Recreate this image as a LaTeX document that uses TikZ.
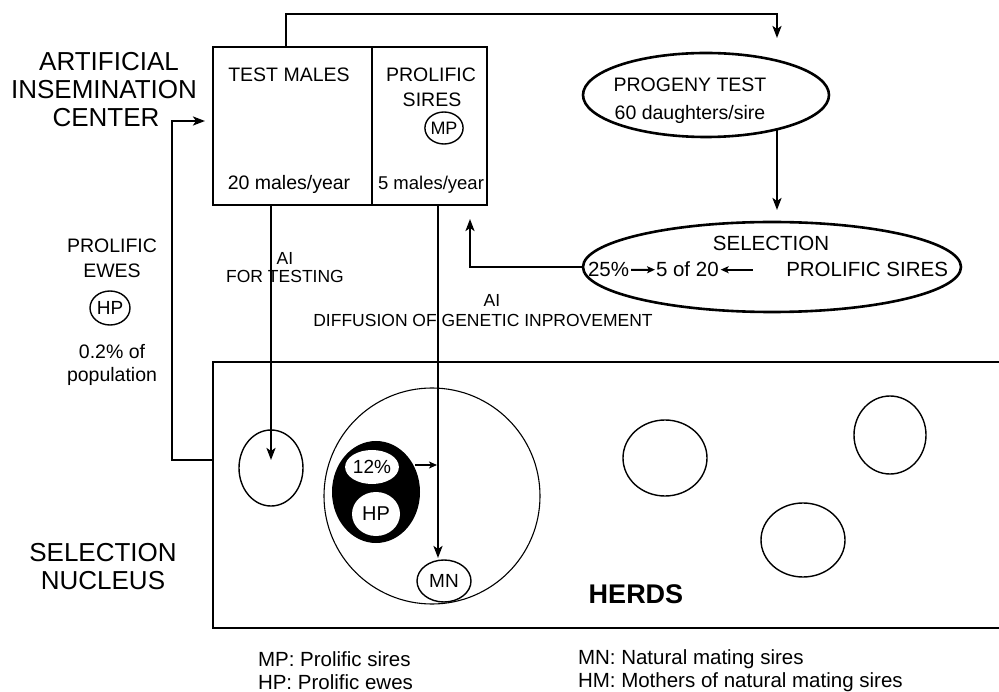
\documentclass[tikz,border=0pt]{standalone}
\usepackage{fontspec}
\setmainfont{Liberation Sans}
\usetikzlibrary{shapes.geometric,arrows.meta,calc}
\begin{document}
\begin{tikzpicture}[x=1pt,y=-1pt,
  every node/.style={inner sep=0pt, outer sep=0pt},
  big/.style={font=\fontsize{26}{28}\selectfont, align=center},
  med/.style={font=\fontsize{19.5}{25}\selectfont, align=center},
  sml/.style={font=\fontsize{17.5}{18}\selectfont, align=center},
  leg/.style={font=\fontsize{20.5}{24}\selectfont},
  heavy/.style={line width=2.6pt},
  conn/.style={line width=2.6pt, -{Stealth[length=12pt,width=9pt,inset=3pt]}},
  inl/.style={line width=2pt, -{Stealth[length=8pt,width=7pt,inset=2pt]}},
  thinc/.style={draw, ellipse, line width=1.4pt},
]
\useasboundingbox (0,0) rectangle (999,692);

% left labels
\node[big, anchor=base] (aic1) at (109,71) {ARTIFICIAL};
\node[big, anchor=base] (aic2) at (104,99) {INSEMINATION};
\node[big, anchor=base] (aic3) at (106,127) {CENTER};
\node[med, anchor=base] (pe1) at (112,253) {PROLIFIC};
\node[med, anchor=base] (pe2) at (112,278) {EWES};
\node[thinc, minimum width=40pt, minimum height=34pt, font=\fontsize{19}{20}\selectfont] (hp1) at (110,308) {HP};
\node[med, anchor=base] (pe3) at (112,359) {0.2\% of};
\node[med, anchor=base] (pe4) at (112,382) {population};
\node[big, anchor=base] (sn1) at (103,561) {SELECTION};
\node[big, anchor=base] (sn2) at (103,589) {NUCLEUS};

% top boxes
\node[draw, heavy, minimum width=159pt, minimum height=158pt, anchor=north west] (tm) at (213,47) {};
\node[draw, heavy, minimum width=115pt, minimum height=158pt, anchor=north west] (ps) at (372,47) {};
\node[med, anchor=base] (tmT) at (289,82) {TEST MALES};
\node[med, anchor=base] (tmB) at (289,190) {20 males/year};
\node[med, anchor=base] (psT) at (431,82) {PROLIFIC};
\node[med, anchor=base] (psT2) at (432,107) {SIRES};
\node[thinc, minimum width=36pt, minimum height=32pt, font=\fontsize{18}{20}\selectfont] (mp) at (444,128) {MP};
\node[font=\fontsize{18.5}{22}\selectfont, anchor=base] (psB) at (431,190) {5 males/year};

% progeny test
\node[draw, ellipse, heavy, minimum width=246pt, minimum height=84pt] (prog) at (706,95) {};
\node[med, anchor=base] (pgT) at (690,92) {PROGENY TEST};
\node[med, anchor=base] (pgB) at (690,120) {60 daughters/sire};

% selection
\node[draw, ellipse, heavy, minimum width=378pt, minimum height=90pt] (sel) at (772,267) {};
\node[font=\fontsize{20.5}{22}\selectfont, anchor=base] (slT) at (771,251) {SELECTION};
\node[font=\fontsize{20.5}{22}\selectfont, anchor=base west] (r1) at (588,277) {25\%};
\node[font=\fontsize{20.5}{22}\selectfont, anchor=base west] (r2) at (656,277) {5 of 20};
\node[font=\fontsize{20.5}{22}\selectfont, anchor=base east] (r3) at (948,277) {PROLIFIC SIRES};
\draw[inl] ([xshift=2pt]r1.east) -- ([xshift=-1pt]r2.west);
\draw[inl] ($(r2.east)+(34,0)$) -- ([xshift=2pt]r2.east);

% connectors top
\coordinate (c1) at (286,47);
\coordinate (c2) at (777,38);
\draw[conn] (c1) -- (286,14) -| (c2);
\coordinate (p1) at (777,129);
\coordinate (p2) at (777,210);
\draw[conn] (p1) -- (p2);
\coordinate (u1) at (470,219);
\draw[conn] (sel.west) -| (u1);

% nucleus
\draw[heavy] (999,362) -- (213,362) -- (213,628) -- (999,628);
\coordinate (nucL) at (213,460);
\coordinate (aicIn) at (205,121);
\draw[conn] (nucL) -- (172,460) |- (aicIn);

% AI lines
\node[sml] (ai1) at (285,258) {AI};
\node[sml] (ai1b) at (285,276) {FOR TESTING};
\node[sml] (ai2) at (492,300) {AI};
\node[sml] (ai2b) at (483,320) {DIFFUSION OF GENETIC INPROVEMENT};
\coordinate (a1s) at (271,205);
\coordinate (a1e) at (271,460);
\draw[conn] (a1s) -- (a1e);
\coordinate (a2s) at (438,205);
\coordinate (a2e) at (438,558);
\draw[conn] (a2s) -- (a2e);

% herds
\node[thinc, minimum width=64pt, minimum height=76pt] (h1) at (271,468) {};
\node[draw, ellipse, line width=1.1pt, minimum width=216pt, minimum height=216pt] (h2) at (432,496) {};
\node[ellipse, fill=black, minimum width=88pt, minimum height=102pt] (hm) at (376,492) {};
\node[ellipse, fill=white, minimum width=42pt, minimum height=34pt, font=\fontsize{19}{20}\selectfont] (p12) at (372,467) {12\%};
\node[ellipse, fill=white, minimum width=48pt, minimum height=44pt, font=\fontsize{20}{20}\selectfont] (hp2) at (376,514) {HP};
\coordinate (a12s) at (415,465);
\coordinate (a12e) at (437,465);
\draw[inl] (a12s) -- (a12e);
\node[thinc, minimum width=54pt, minimum height=42pt, font=\fontsize{19}{20}\selectfont] (mn) at (444,581) {MN};
\node[thinc, minimum width=84pt, minimum height=76pt] (hA) at (665,458) {};
\node[thinc, minimum width=72pt, minimum height=78pt] (hB) at (890,435) {};
\node[thinc, minimum width=84pt, minimum height=74pt] (hC) at (803,540) {};
\node[font=\bfseries\fontsize{27}{30}\selectfont, anchor=base] (herds) at (636,603) {HERDS};

% legend
\node[leg, anchor=base west] (lg1) at (258,666) {MP: Prolific sires};
\node[leg, anchor=base west] (lg2) at (258,689) {HP: Prolific ewes};
\node[leg, anchor=base west] (lg3) at (578,664) {MN: Natural mating sires};
\node[leg, anchor=base west] (lg4) at (578,687) {HM: Mothers of natural mating sires};
\end{tikzpicture}
\end{document}
